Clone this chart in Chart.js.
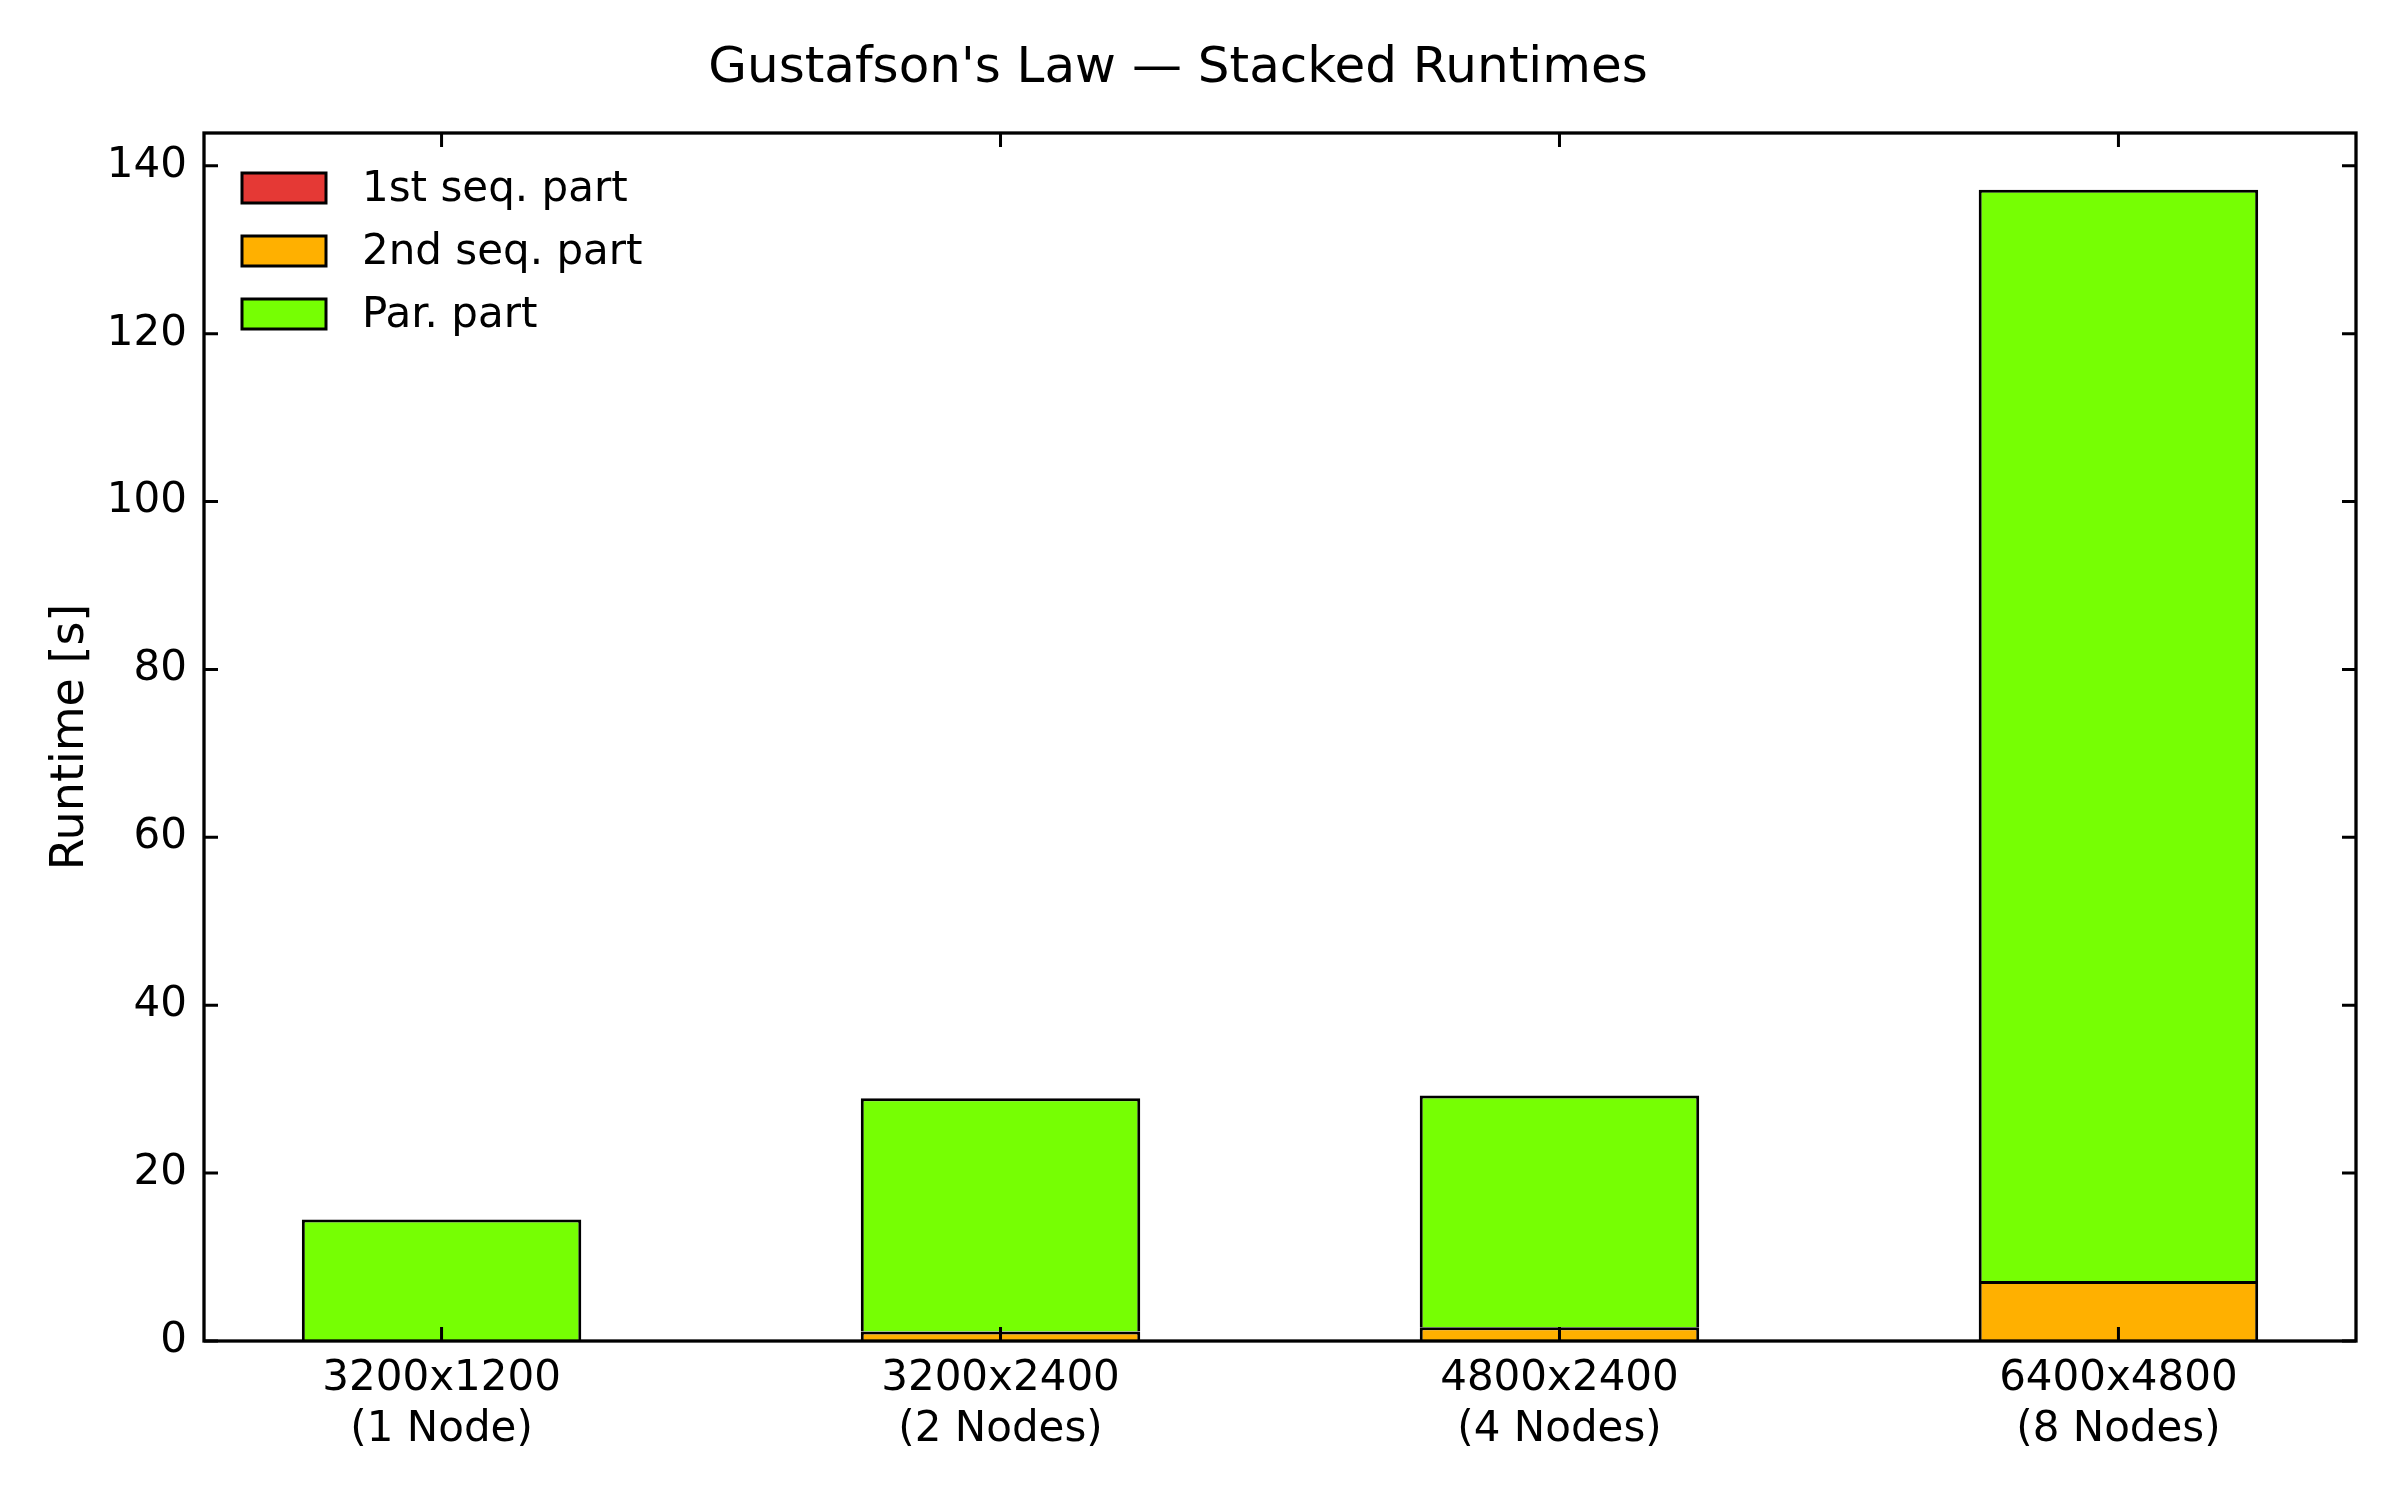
<!DOCTYPE html>
<html>
<head>
<meta charset="utf-8">
<script src="https://cdn.jsdelivr.net/npm/chart.js@4.4.1/dist/chart.umd.min.js"></script>
<style>
  html, body { margin: 0; padding: 0; background: #fff; }
  #wrap { width: 2400px; height: 1500px; }
</style>
</head>
<body>
<div id="wrap"><canvas id="runtimeChart" width="2400" height="1500"></canvas></div>
<script>
const categories = [
  ["3200x1200", "(1 Node)"],
  ["3200x2400", "(2 Nodes)"],
  ["4800x2400", "(4 Nodes)"],
  ["6400x4800", "(8 Nodes)"]
];
const firstSeq = [0.02, 0.03, 0.03, 0.05];
const secondSeq = [0.05, 1.1, 1.6, 7.1];
const parPart = [14.4, 27.8, 27.6, 130.0];
const yTicks = [0, 20, 40, 60, 80, 100, 120, 140];

const FONT = "'DejaVu Sans', 'Liberation Sans', sans-serif";

function toPoints(values) {
  return values.map((value, index) => ({ x: index, y: value }));
}

// the bottom edge is skipped so stacked segments share one 3px line
function makeDataset(label, values, color) {
  return {
    label,
    data: toPoints(values),
    backgroundColor: color,
    borderColor: "#000",
    borderWidth: 3,
    borderSkipped: "start",
    barPercentage: 0.5,
    categoryPercentage: 1.0
  };
}

// inside ticks on all four sides, frame, and legend box in upper left
const framePlugin = {
  id: "frame",
  afterDatasetsDraw(chart) {
    const { ctx, chartArea } = chart;
    const xScale = chart.scales.x;
    const yScale = chart.scales.y;
    const tickLen = 14;
    ctx.save();
    ctx.strokeStyle = "#000";
    ctx.lineWidth = 3;
    ctx.beginPath();
    categories.forEach((_, index) => {
      const px = xScale.getPixelForValue(index);
      ctx.moveTo(px, chartArea.bottom);
      ctx.lineTo(px, chartArea.bottom - tickLen);
      ctx.moveTo(px, chartArea.top);
      ctx.lineTo(px, chartArea.top + tickLen);
    });
    yTicks.forEach((value) => {
      const py = yScale.getPixelForValue(value);
      ctx.moveTo(chartArea.left, py);
      ctx.lineTo(chartArea.left + tickLen, py);
      ctx.moveTo(chartArea.right, py);
      ctx.lineTo(chartArea.right - tickLen, py);
    });
    ctx.stroke();
    ctx.lineWidth = 3.3;
    ctx.strokeRect(chartArea.left, chartArea.top, chartArea.right - chartArea.left, chartArea.bottom - chartArea.top);

    ctx.font = `42px ${FONT}`;
    ctx.textBaseline = "middle";
    ctx.textAlign = "left";
    chart.data.datasets.forEach((dataset, index) => {
      const boxX = chartArea.left + 38;
      const centerY = chartArea.top + 55 + index * 63;
      ctx.fillStyle = dataset.backgroundColor;
      ctx.fillRect(boxX, centerY - 15, 84, 30);
      ctx.lineWidth = 3;
      ctx.strokeRect(boxX, centerY - 15, 84, 30);
      ctx.fillStyle = "#000";
      ctx.fillText(dataset.label, boxX + 120, centerY + 2);
    });
    ctx.restore();
  }
};

new Chart(document.getElementById("runtimeChart"), {
  type: "bar",
  data: {
    datasets: [
      makeDataset("1st seq. part", firstSeq, "#e53935"),
      makeDataset("2nd seq. part", secondSeq, "#ffb000"),
      makeDataset("Par. part", parPart, "#76ff03")
    ]
  },
  options: {
    responsive: false,
    animation: false,
    devicePixelRatio: 1,
    layout: { padding: { left: 0, right: 44, top: 0, bottom: 0 } },
    scales: {
      x: {
        type: "linear",
        stacked: true,
        offset: false,
        min: -0.425,
        max: 3.425,
        grid: { display: false, drawTicks: false, offset: false },
        border: { display: false },
        afterBuildTicks(scale) {
          scale.ticks = categories.map((_, index) => ({ value: index }));
        },
        afterFit(scale) { scale.height = 159; },
        ticks: {
          padding: 13,
          color: "#000",
          font: { family: FONT, size: 42 },
          maxRotation: 0,
          autoSkip: false,
          callback: (value) => categories[value] || ""
        }
      },
      y: {
        stacked: true,
        min: 0,
        max: 143.9,
        grid: { display: false, drawTicks: false },
        border: { display: false },
        afterBuildTicks(scale) {
          scale.ticks = yTicks.map((value) => ({ value }));
        },
        afterFit(scale) { scale.width = 204; },
        ticks: {
          padding: 17,
          color: "#000",
          font: { family: FONT, size: 42 }
        },
        title: {
          display: true,
          text: "Runtime [s]",
          color: "#000",
          font: { family: FONT, size: 46 },
          padding: { top: 43, bottom: 0 }
        }
      }
    },
    plugins: {
      legend: { display: false },
      tooltip: { enabled: false },
      title: {
        display: true,
        text: "Gustafson's Law — Stacked Runtimes",
        color: "#000",
        font: { family: FONT, size: 50, weight: "normal" },
        padding: { top: 39, bottom: 34 }
      }
    }
  },
  plugins: [framePlugin]
});
</script>
</body>
</html>
